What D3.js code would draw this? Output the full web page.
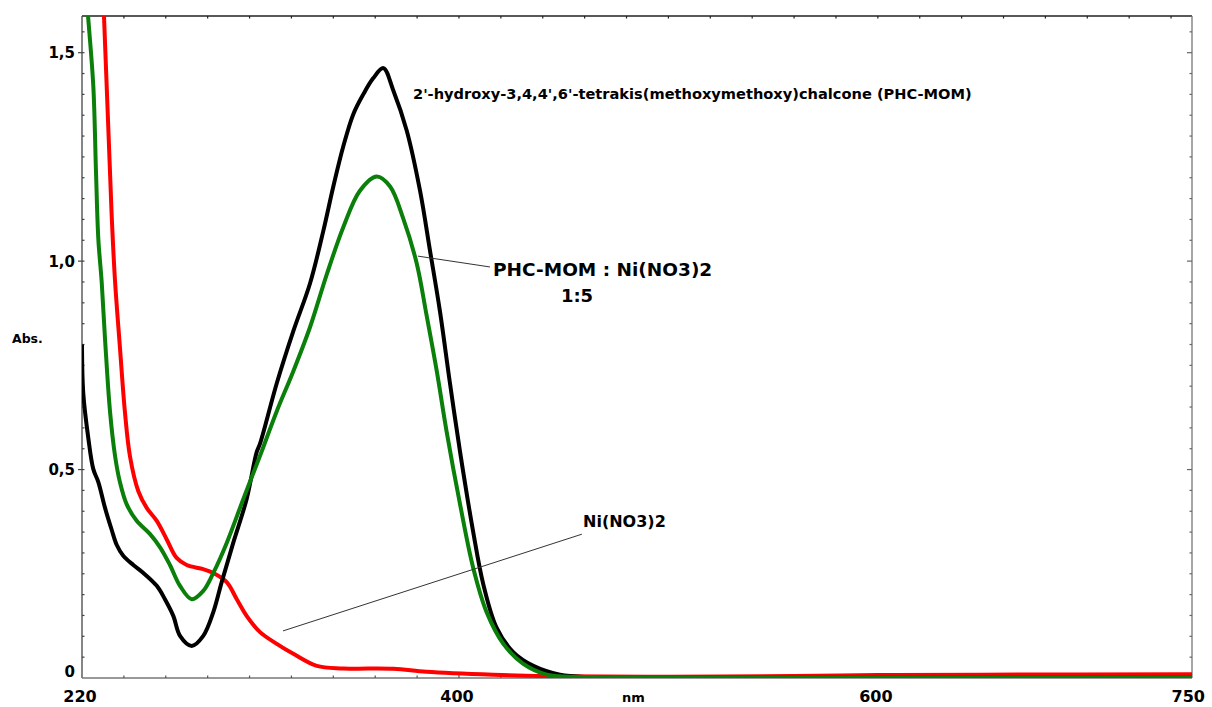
<!DOCTYPE html>
<html>
<head>
<meta charset="utf-8">
<script src="https://cdn.jsdelivr.net/npm/d3@7/dist/d3.min.js"></script>
<style>
  html, body { margin: 0; padding: 0; background: #fff; }
  svg { display: block; }
  text { font-family: "DejaVu Sans", sans-serif; font-weight: bold; fill: #000; }
</style>
</head>
<body>
<svg id="chart" width="1212" height="707"></svg>
<script>
// UV-Vis absorption spectra: wavelength (nm) and absorbance (Abs.)
// PHC-MOM ligand alone (black)
const ligandNm  = [220, 220.6, 223, 225.4, 227.8, 231, 234.2, 236.6, 239.7, 244.5, 249.3, 255.7, 259.6, 263.6, 266.8, 272.4, 277.9, 282.7, 286.7, 292.2, 298.6, 303.4, 305, 313, 320.9, 328.9, 335.2, 340, 344.8, 349.5, 354.3, 359.1, 363.9, 368.6, 375, 381.4, 386.2, 390.9, 395.7, 400.5, 406.8, 411.6, 418, 425.9, 435.5, 448.2, 462.6, 520, 600, 750];
const ligandAbs = [0.80, 0.684, 0.576, 0.501, 0.470, 0.408, 0.355, 0.319, 0.293, 0.271, 0.252, 0.221, 0.189, 0.149, 0.101, 0.077, 0.101, 0.158, 0.230, 0.324, 0.429, 0.542, 0.562, 0.707, 0.832, 0.947, 1.072, 1.179, 1.276, 1.352, 1.400, 1.439, 1.463, 1.410, 1.314, 1.169, 1.024, 0.880, 0.707, 0.543, 0.350, 0.225, 0.120, 0.062, 0.029, 0.008, 0.002, 0.001, 0.001, 0.001];

// PHC-MOM : Ni(NO3)2 1:5 mixture (green)
const complexNm  = [220, 222.9, 225.4, 226.7, 227.8, 229.4, 231, 233.4, 235.8, 238.1, 241.3, 246.1, 252.5, 257.2, 262, 266.8, 272.4, 277.9, 282.7, 289.1, 297, 305, 313, 320.9, 328.9, 336.8, 344.8, 352.7, 360.7, 367.1, 373.4, 379.8, 384.5, 389.4, 394.1, 400.5, 406.8, 413.2, 421.2, 430.7, 441.9, 448.2, 470, 600, 750];
const complexAbs = [1.78, 1.588, 1.420, 1.211, 1.053, 0.950, 0.813, 0.638, 0.532, 0.470, 0.417, 0.377, 0.345, 0.314, 0.271, 0.221, 0.189, 0.209, 0.252, 0.324, 0.429, 0.533, 0.640, 0.736, 0.842, 0.967, 1.082, 1.169, 1.203, 1.179, 1.102, 0.995, 0.871, 0.736, 0.591, 0.417, 0.264, 0.158, 0.082, 0.034, 0.008, 0.004, 0.002, 0.002, 0.002];

// Ni(NO3)2 alone (red)
const nickelNm  = [220, 228.6, 230.5, 232.6, 234.2, 235.8, 238.1, 240.5, 242.9, 246.9, 250.9, 255.7, 260.4, 265.2, 270, 277.9, 282.7, 289.1, 293.9, 298.6, 305, 313, 320.9, 332.1, 344.8, 368.6, 384.5, 416.4, 448.2, 500, 560, 600, 650, 750];
const nickelAbs = [2.6, 1.84, 1.588, 1.314, 1.106, 0.950, 0.794, 0.638, 0.532, 0.448, 0.408, 0.377, 0.333, 0.288, 0.271, 0.261, 0.252, 0.230, 0.189, 0.149, 0.110, 0.082, 0.058, 0.029, 0.023, 0.022, 0.015, 0.008, 0.004, 0.003, 0.005, 0.007, 0.008, 0.009];

// axis ticks and labels
const xLabelValues = [220, 400, 600, 750];
const xLabelTexts  = ["220", "400", "600", "750"];
const yLabelValues = [0, 0.5, 1.0, 1.5];
const yLabelTexts  = ["0", "0,5", "1,0", "1,5"];

// annotation leader lines, in data units [nm, Abs]
const complexLeader = [[380.4, 1.012], [414.8, 0.986]];
const nickelLeader  = [[316.0, 0.113], [458.7, 0.345]];

const svg = d3.select("#chart");
const plotLeft = 82, plotRight = 1192, plotTop = 16, plotBottom = 678;

const x = d3.scaleLinear().domain([220, 750]).range([plotLeft, plotRight]);
const y = d3.scaleLinear().domain([0, 1.588]).range([plotBottom, plotTop]);

svg.append("defs").append("clipPath").attr("id", "plot-clip")
  .append("rect").attr("x", plotLeft).attr("y", plotTop)
  .attr("width", plotRight - plotLeft).attr("height", plotBottom - plotTop);

// frame
const frame = svg.append("g").attr("fill", "none").attr("stroke-width", 1.3);
frame.append("line").attr("x1", plotLeft).attr("x2", plotRight).attr("y1", plotTop).attr("y2", plotTop).attr("stroke", "#222");
frame.append("line").attr("x1", plotLeft).attr("x2", plotLeft).attr("y1", plotTop).attr("y2", plotBottom).attr("stroke", "#444");
frame.append("line").attr("x1", plotRight).attr("x2", plotRight).attr("y1", plotTop).attr("y2", plotBottom).attr("stroke", "#777");
frame.append("line").attr("x1", plotLeft).attr("x2", plotRight).attr("y1", plotBottom).attr("y2", plotBottom).attr("stroke", "#777");

// minor/major ticks on all four sides, pointing inward
const xTicks = d3.range(220, 750, 20);
const yTicks = d3.range(0, 1.58, 0.05).map(v => +v.toFixed(2));
const isMajorY = v => Math.abs(v * 2 - Math.round(v * 2)) < 1e-6;
const isMajorX = v => v === 400 || v === 600;

const ticks = svg.append("g").attr("stroke-width", 1.2);
ticks.append("g").selectAll("line").data(xTicks.slice(1)).join("line")
  .attr("x1", d => x(d)).attr("x2", d => x(d))
  .attr("y1", plotBottom).attr("y2", d => plotBottom - (isMajorX(d) ? 4 : 2.5)).attr("stroke", "#555");
ticks.append("g").selectAll("line").data(xTicks.slice(1)).join("line")
  .attr("x1", d => x(d)).attr("x2", d => x(d))
  .attr("y1", plotTop).attr("y2", plotTop + 2.5).attr("stroke", "#222");
ticks.append("g").selectAll("line").data(yTicks.slice(1)).join("line")
  .attr("y1", d => y(d)).attr("y2", d => y(d))
  .attr("x1", d => isMajorY(d) ? plotLeft - 4 : plotLeft).attr("x2", plotLeft + 2.5).attr("stroke", "#444");
ticks.append("g").selectAll("line").data(yTicks.slice(1)).join("line")
  .attr("y1", d => y(d)).attr("y2", d => y(d))
  .attr("x1", plotRight).attr("x2", d => plotRight - (isMajorY(d) ? 5 : 2.5)).attr("stroke", "#666");

// tick labels
svg.append("g").selectAll("text").data(xLabelValues).join("text")
  .attr("x", (d, i) => i === xLabelValues.length - 1 ? 1205 : x(d) - 2)
  .attr("y", 702)
  .attr("text-anchor", (d, i) => i === xLabelValues.length - 1 ? "end" : "middle")
  .style("font-size", "16px")
  .text((d, i) => xLabelTexts[i]);

svg.append("g").selectAll("text").data(yLabelValues).join("text")
  .attr("x", 75)
  .attr("y", d => d === 0 ? y(d) - 1 : y(d) + 5.5)
  .attr("text-anchor", "end")
  .style("font-size", "15px")
  .text((d, i) => yLabelTexts[i]);

// axis titles
svg.append("text").attr("x", 12).attr("y", 343).style("font-size", "12.5px").text("Abs.");
svg.append("text").attr("x", 622).attr("y", 702).style("font-size", "13px").text("nm");

// spectra
const line = d3.line().x(d => x(d[0])).y(d => y(d[1])).curve(d3.curveCatmullRom.alpha(0.5));
const plot = svg.append("g").attr("clip-path", "url(#plot-clip)")
  .attr("fill", "none").attr("stroke-width", 4).attr("stroke-linejoin", "round");

const series = [
  { nm: nickelNm,  abs: nickelAbs,  color: "#ff0000" },
  { nm: ligandNm,  abs: ligandAbs,  color: "#000000" },
  { nm: complexNm, abs: complexAbs, color: "#0a7f0a" }
];
series.forEach(s => {
  plot.append("path")
    .datum(s.nm.map((v, i) => [v, s.abs[i]]))
    .attr("stroke", s.color)
    .attr("d", line);
});

// annotations
const ann = svg.append("g").attr("stroke", "#333").attr("stroke-width", 1);
[complexLeader, nickelLeader].forEach(p => {
  ann.append("line")
    .attr("x1", x(p[0][0])).attr("y1", y(p[0][1]))
    .attr("x2", x(p[1][0])).attr("y2", y(p[1][1]));
});

svg.append("text").attr("x", 413).attr("y", 99).style("font-size", "14.6px")
  .text("2'-hydroxy-3,4,4',6'-tetrakis(methoxymethoxy)chalcone (PHC-MOM)");
svg.append("text").attr("x", 493).attr("y", 276).style("font-size", "18.5px")
  .text("PHC-MOM : Ni(NO3)2");
svg.append("text").attr("x", 577).attr("y", 302).attr("text-anchor", "middle").style("font-size", "18px")
  .text("1:5");
svg.append("text").attr("x", 583).attr("y", 527).style("font-size", "16px")
  .text("Ni(NO3)2");
</script>
</body>
</html>
